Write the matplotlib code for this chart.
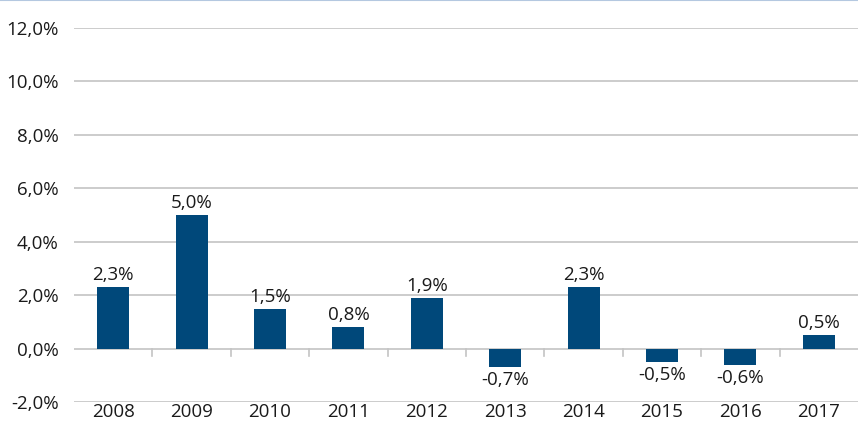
import numpy as np
import matplotlib.pyplot as plt
from matplotlib.lines import Line2D

years = ['2008', '2009', '2010', '2011', '2012', '2013', '2014', '2015', '2016', '2017']
values = [2.3, 5.0, 1.5, 0.8, 1.9, -0.7, 2.3, -0.5, -0.6, 0.5]
labels = ['2,3%', '5,0%', '1,5%', '0,8%', '1,9%', '-0,7%', '2,3%', '-0,5%', '-0,6%', '0,5%']
yticks = [-2, 0, 2, 4, 6, 8, 10, 12]

plt.rcParams['font.family'] = ['Open Sans', 'DejaVu Sans']
bar_color = '#00487a'
grid_color = '#c4c4c4'
text_color = '#1a1a1a'
fs = 13.5

fig = plt.figure(figsize=(8.58, 4.29), dpi=100)
ax = fig.add_axes([74 / 858, 1 - 402 / 429, (858 - 74) / 858, (402 - 28) / 429])

x = np.arange(len(years))
ax.bar(x, values, width=0.41, color=bar_color, zorder=3)

for xi, v, lab in zip(x, values, labels):
    if v >= 0:
        ax.annotate(lab, (xi, v), xytext=(0, 2), textcoords='offset points',
                    ha='center', va='bottom', fontsize=fs, color=text_color)
    else:
        ax.annotate(lab, (xi, v), xytext=(0, -3), textcoords='offset points',
                    ha='center', va='top', fontsize=fs, color=text_color)

ax.set_xlim(-0.5, len(years) - 0.5)
ax.set_ylim(-2, 12)
ax.set_yticks(yticks)
ax.set_yticklabels([f'{t},0%' for t in yticks], fontsize=fs, color=text_color)
for t in yticks:
    ax.axhline(t, color=grid_color, lw=1.2, zorder=1)

ax.set_xticks(x)
ax.set_xticklabels(years, fontsize=fs, color=text_color)
ax.tick_params(axis='both', length=0)
ax.tick_params(axis='x', pad=1)
ax.tick_params(axis='y', pad=11)

# little separators under the zero line
for b in np.arange(0.5, len(years) - 1, 1.0):
    ax.plot([b, b], [0, -0.28], color=grid_color, lw=1.2, zorder=1)

for s in ax.spines.values():
    s.set_visible(False)

fig.add_artist(Line2D([0, 1], [0.999, 0.999], color='#b4c8e0', lw=1.5))

fig.savefig('out.png', dpi=100)
